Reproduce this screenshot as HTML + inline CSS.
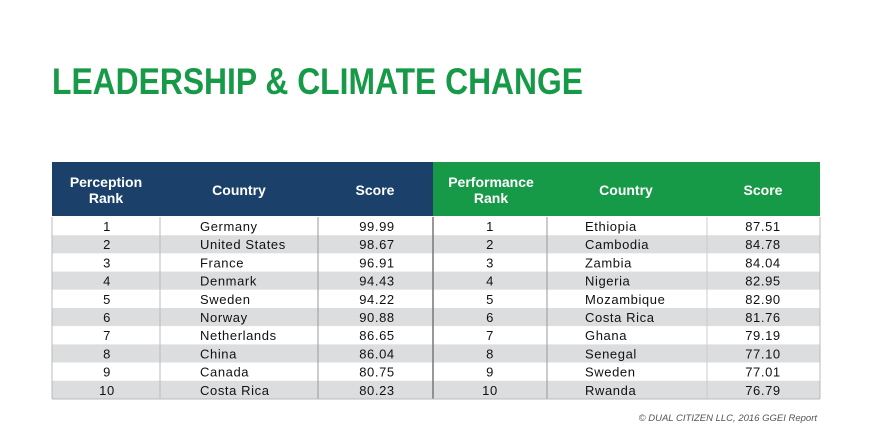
<!DOCTYPE html>
<html><head><meta charset="utf-8"><style>
html,body{margin:0;padding:0;background:#fff;}
svg{display:block;font-family:"Liberation Sans",sans-serif;}
</style></head><body>
<svg id="s" width="878" height="444" viewBox="0 0 878 444">
<text x="52" y="94" font-size="37" font-weight="bold" fill="#179a48" textLength="531" lengthAdjust="spacingAndGlyphs">LEADERSHIP &amp; CLIMATE CHANGE</text>
<rect x="52" y="162" width="381" height="54" fill="#1b416b"/>
<rect x="433" y="162" width="387" height="54" fill="#179a48"/>
<g fill="#fff" font-weight="bold" font-size="14" text-anchor="middle">
<text x="106" y="187">Perception</text>
<text x="106" y="203">Rank</text>
<text x="239" y="195">Country</text>
<text x="375" y="195">Score</text>
<text x="491" y="187">Performance</text>
<text x="491" y="203">Rank</text>
<text x="626" y="195">Country</text>
<text x="763" y="195">Score</text>
</g>
<g id="rows"></g>
<text x="817" y="421" font-size="9.5" font-style="italic" fill="#555" text-anchor="end">© DUAL CITIZEN LLC, 2016 GGEI Report</text>
</svg>
<script>
const ranks=[1,2,3,4,5,6,7,8,9,10];
const leftCountries=["Germany","United States","France","Denmark","Sweden","Norway","Netherlands","China","Canada","Costa Rica"];
const leftScores=["99.99","98.67","96.91","94.43","94.22","90.88","86.65","86.04","80.75","80.23"];
const rightCountries=["Ethiopia","Cambodia","Zambia","Nigeria","Mozambique","Costa Rica","Ghana","Senegal","Sweden","Rwanda"];
const rightScores=["87.51","84.78","84.04","82.95","82.90","81.76","79.19","77.10","77.01","76.79"];
const NS="http://www.w3.org/2000/svg";
const g=document.getElementById('rows');
const top0=217,rh=18.2;
function mk(tag,attrs,txt){const e=document.createElementNS(NS,tag);for(const k in attrs)e.setAttribute(k,attrs[k]);if(txt!==undefined)e.textContent=txt;g.appendChild(e);return e;}
ranks.forEach((r,i)=>{
  const y=top0+i*rh;
  const bg=mk('rect',{x:52,y:y,width:768,height:rh,fill:i%2?'#dcdddf':'#fff'});
  
  
  const ty=y+14;
  const cells=[[107,'middle',String(r)],[200,'start',leftCountries[i]],[377,'middle',leftScores[i]],[490,'middle',String(r)],[585,'start',rightCountries[i]],[763,'middle',rightScores[i]]];
  cells.forEach((c,j)=>{
    const t=mk('text',{x:c[0],y:ty,'font-size':13,'text-anchor':c[1],fill:'#111','letter-spacing':'0.6'},c[2]);
    
    
  });
});
const bottom=top0+ranks.length*rh;
[[160,'#bbb',1],[318,'#999',1],[433,'#777',1.5],[547,'#999',1],[707,'#ccc',1],[52,'#bbb',1],[820,'#bbb',1]].forEach(v=>{
  const l=mk('line',{x1:v[0],x2:v[0],y1:top0,y2:bottom,stroke:v[1],'stroke-width':v[2]});
  
  
});
const bl=mk('line',{x1:52,x2:820,y1:bottom,y2:bottom,stroke:'#bbb'});


</script>
</body></html>
